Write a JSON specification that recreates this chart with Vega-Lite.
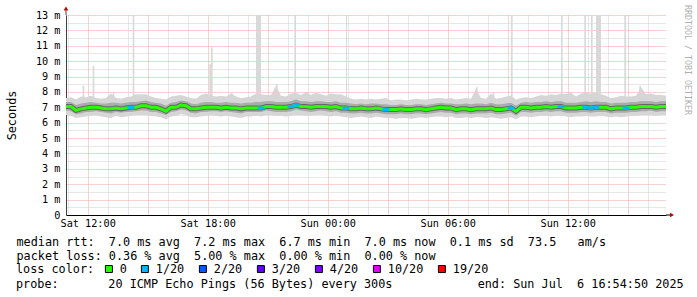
{
  "$schema": "https://vega.github.io/schema/vega-lite/v6.json",
  "width": 600,
  "height": 200,
  "autosize": {"type": "none"},
  "padding": {"left": 66, "top": 15, "right": 31, "bottom": 82},
  "background": "white",
  "config": {"view": {"stroke": null}},
  "datasets": {
    "rtt": [
      {"t":"2025-07-05T10:55:00Z","m":7.05,"l":"0","min":6.5,"q1":6.8,"q3":7.35,"max":7.6},
      {"t":"2025-07-05T11:10:00Z","m":7.05,"l":"0","min":6.45,"q1":6.75,"q3":7.35,"max":7.65},
      {"t":"2025-07-05T11:25:00Z","m":6.8,"l":"0","min":6.3,"q1":6.55,"q3":7.15,"max":7.5},
      {"t":"2025-07-05T11:40:00Z","m":6.9,"l":"0","min":6.35,"q1":6.6,"q3":7.25,"max":7.7},
      {"t":"2025-07-05T11:55:00Z","m":6.95,"l":"0","min":6.4,"q1":6.7,"q3":7.3,"max":7.65},
      {"t":"2025-07-05T12:10:00Z","m":7.0,"l":"0","min":6.45,"q1":6.7,"q3":7.35,"max":7.75},
      {"t":"2025-07-05T12:25:00Z","m":7.0,"l":"0","min":6.5,"q1":6.75,"q3":7.3,"max":7.6},
      {"t":"2025-07-05T12:40:00Z","m":6.95,"l":"0","min":6.4,"q1":6.7,"q3":7.25,"max":7.55},
      {"t":"2025-07-05T12:55:00Z","m":6.9,"l":"0","min":6.35,"q1":6.65,"q3":7.25,"max":7.6},
      {"t":"2025-07-05T13:10:00Z","m":6.9,"l":"0","min":6.3,"q1":6.6,"q3":7.3,"max":7.9},
      {"t":"2025-07-05T13:25:00Z","m":6.95,"l":"0","min":6.45,"q1":6.7,"q3":7.3,"max":7.6},
      {"t":"2025-07-05T13:40:00Z","m":6.9,"l":"0","min":6.35,"q1":6.65,"q3":7.25,"max":7.55},
      {"t":"2025-07-05T13:55:00Z","m":6.95,"l":"0","min":6.4,"q1":6.7,"q3":7.3,"max":7.65},
      {"t":"2025-07-05T14:10:00Z","m":7.0,"l":"1/20","min":6.45,"q1":6.7,"q3":7.35,"max":7.7},
      {"t":"2025-07-05T14:25:00Z","m":7.0,"l":"0","min":6.5,"q1":6.75,"q3":7.35,"max":7.85},
      {"t":"2025-07-05T14:40:00Z","m":7.1,"l":"0","min":6.5,"q1":6.8,"q3":7.4,"max":7.85},
      {"t":"2025-07-05T14:55:00Z","m":7.1,"l":"0","min":6.5,"q1":6.8,"q3":7.45,"max":7.85},
      {"t":"2025-07-05T15:10:00Z","m":7.0,"l":"0","min":6.45,"q1":6.7,"q3":7.35,"max":7.7},
      {"t":"2025-07-05T15:25:00Z","m":7.0,"l":"0","min":6.4,"q1":6.7,"q3":7.3,"max":7.6},
      {"t":"2025-07-05T15:40:00Z","m":6.9,"l":"0","min":6.35,"q1":6.6,"q3":7.25,"max":7.55},
      {"t":"2025-07-05T15:55:00Z","m":6.75,"l":"0","min":6.2,"q1":6.5,"q3":7.1,"max":7.5},
      {"t":"2025-07-05T16:10:00Z","m":7.0,"l":"0","min":6.4,"q1":6.7,"q3":7.3,"max":7.7},
      {"t":"2025-07-05T16:25:00Z","m":7.0,"l":"0","min":6.45,"q1":6.75,"q3":7.35,"max":7.75},
      {"t":"2025-07-05T16:40:00Z","m":7.15,"l":"0","min":6.55,"q1":6.85,"q3":7.45,"max":7.8},
      {"t":"2025-07-05T16:55:00Z","m":7.1,"l":"0","min":6.5,"q1":6.8,"q3":7.4,"max":7.7},
      {"t":"2025-07-05T17:10:00Z","m":6.9,"l":"0","min":6.35,"q1":6.65,"q3":7.25,"max":7.6},
      {"t":"2025-07-05T17:25:00Z","m":6.9,"l":"0","min":6.35,"q1":6.6,"q3":7.2,"max":7.55},
      {"t":"2025-07-05T17:40:00Z","m":6.95,"l":"0","min":6.4,"q1":6.7,"q3":7.3,"max":7.8},
      {"t":"2025-07-05T17:55:00Z","m":7.0,"l":"0","min":6.45,"q1":6.7,"q3":7.35,"max":7.9},
      {"t":"2025-07-05T18:10:00Z","m":7.0,"l":"0","min":6.5,"q1":6.75,"q3":7.35,"max":7.75},
      {"t":"2025-07-05T18:25:00Z","m":7.0,"l":"0","min":6.45,"q1":6.75,"q3":7.3,"max":7.7},
      {"t":"2025-07-05T18:40:00Z","m":6.95,"l":"0","min":6.4,"q1":6.7,"q3":7.3,"max":7.75},
      {"t":"2025-07-05T18:55:00Z","m":7.0,"l":"0","min":6.45,"q1":6.75,"q3":7.35,"max":7.7},
      {"t":"2025-07-05T19:10:00Z","m":6.95,"l":"0","min":6.4,"q1":6.7,"q3":7.3,"max":7.9},
      {"t":"2025-07-05T19:25:00Z","m":6.95,"l":"0","min":6.35,"q1":6.65,"q3":7.3,"max":7.7},
      {"t":"2025-07-05T19:40:00Z","m":6.9,"l":"0","min":6.3,"q1":6.6,"q3":7.25,"max":7.6},
      {"t":"2025-07-05T19:55:00Z","m":6.95,"l":"0","min":6.4,"q1":6.7,"q3":7.3,"max":7.65},
      {"t":"2025-07-05T20:10:00Z","m":6.95,"l":"0","min":6.4,"q1":6.7,"q3":7.3,"max":7.7},
      {"t":"2025-07-05T20:25:00Z","m":6.95,"l":"0","min":6.45,"q1":6.7,"q3":7.35,"max":7.9},
      {"t":"2025-07-05T20:40:00Z","m":6.95,"l":"1/20","min":6.4,"q1":6.7,"q3":7.35,"max":7.85},
      {"t":"2025-07-05T20:55:00Z","m":7.05,"l":"0","min":6.5,"q1":6.8,"q3":7.4,"max":7.8},
      {"t":"2025-07-05T21:10:00Z","m":7.05,"l":"0","min":6.5,"q1":6.75,"q3":7.4,"max":7.8},
      {"t":"2025-07-05T21:25:00Z","m":7.0,"l":"0","min":6.45,"q1":6.7,"q3":7.35,"max":8.4},
      {"t":"2025-07-05T21:40:00Z","m":7.0,"l":"0","min":6.45,"q1":6.7,"q3":7.35,"max":7.75},
      {"t":"2025-07-05T21:55:00Z","m":7.0,"l":"0","min":6.4,"q1":6.7,"q3":7.35,"max":7.7},
      {"t":"2025-07-05T22:10:00Z","m":7.05,"l":"1/20","min":6.45,"q1":6.75,"q3":7.4,"max":7.9},
      {"t":"2025-07-05T22:25:00Z","m":7.15,"l":"1/20","min":6.5,"q1":6.85,"q3":7.5,"max":7.95},
      {"t":"2025-07-05T22:40:00Z","m":7.05,"l":"0","min":6.5,"q1":6.8,"q3":7.4,"max":7.8},
      {"t":"2025-07-05T22:55:00Z","m":7.05,"l":"0","min":6.45,"q1":6.75,"q3":7.4,"max":8.0},
      {"t":"2025-07-05T23:10:00Z","m":7.0,"l":"0","min":6.45,"q1":6.7,"q3":7.35,"max":7.8},
      {"t":"2025-07-05T23:25:00Z","m":7.05,"l":"0","min":6.5,"q1":6.75,"q3":7.4,"max":7.95},
      {"t":"2025-07-05T23:40:00Z","m":7.05,"l":"0","min":6.5,"q1":6.8,"q3":7.4,"max":7.85},
      {"t":"2025-07-05T23:55:00Z","m":7.05,"l":"0","min":6.45,"q1":6.75,"q3":7.35,"max":7.75},
      {"t":"2025-07-06T00:10:00Z","m":7.0,"l":"0","min":6.4,"q1":6.7,"q3":7.35,"max":7.9},
      {"t":"2025-07-06T00:25:00Z","m":7.05,"l":"0","min":6.45,"q1":6.75,"q3":7.4,"max":7.85},
      {"t":"2025-07-06T00:40:00Z","m":6.95,"l":"0","min":6.4,"q1":6.65,"q3":7.3,"max":7.85},
      {"t":"2025-07-06T00:55:00Z","m":6.95,"l":"1/20","min":6.35,"q1":6.65,"q3":7.3,"max":7.7},
      {"t":"2025-07-06T01:10:00Z","m":6.9,"l":"0","min":6.3,"q1":6.6,"q3":7.25,"max":7.55},
      {"t":"2025-07-06T01:25:00Z","m":6.9,"l":"0","min":6.35,"q1":6.6,"q3":7.2,"max":7.5},
      {"t":"2025-07-06T01:40:00Z","m":6.95,"l":"0","min":6.4,"q1":6.65,"q3":7.25,"max":7.55},
      {"t":"2025-07-06T01:55:00Z","m":6.9,"l":"0","min":6.35,"q1":6.6,"q3":7.2,"max":7.5},
      {"t":"2025-07-06T02:10:00Z","m":6.9,"l":"0","min":6.3,"q1":6.6,"q3":7.25,"max":7.55},
      {"t":"2025-07-06T02:25:00Z","m":6.95,"l":"0","min":6.4,"q1":6.65,"q3":7.25,"max":7.5},
      {"t":"2025-07-06T02:40:00Z","m":6.9,"l":"0","min":6.35,"q1":6.6,"q3":7.2,"max":7.55},
      {"t":"2025-07-06T02:55:00Z","m":6.85,"l":"1/20","min":6.3,"q1":6.55,"q3":7.2,"max":7.6},
      {"t":"2025-07-06T03:10:00Z","m":6.85,"l":"0","min":6.3,"q1":6.55,"q3":7.15,"max":7.45},
      {"t":"2025-07-06T03:25:00Z","m":6.85,"l":"0","min":6.25,"q1":6.55,"q3":7.15,"max":7.5},
      {"t":"2025-07-06T03:40:00Z","m":6.9,"l":"0","min":6.3,"q1":6.6,"q3":7.2,"max":7.5},
      {"t":"2025-07-06T03:55:00Z","m":6.85,"l":"0","min":6.3,"q1":6.55,"q3":7.15,"max":7.45},
      {"t":"2025-07-06T04:10:00Z","m":6.85,"l":"0","min":6.25,"q1":6.55,"q3":7.15,"max":7.5},
      {"t":"2025-07-06T04:25:00Z","m":6.9,"l":"0","min":6.3,"q1":6.6,"q3":7.2,"max":7.55},
      {"t":"2025-07-06T04:40:00Z","m":6.9,"l":"0","min":6.35,"q1":6.6,"q3":7.2,"max":7.5},
      {"t":"2025-07-06T04:55:00Z","m":6.85,"l":"0","min":6.3,"q1":6.55,"q3":7.15,"max":7.5},
      {"t":"2025-07-06T05:10:00Z","m":6.9,"l":"0","min":6.35,"q1":6.6,"q3":7.2,"max":7.55},
      {"t":"2025-07-06T05:25:00Z","m":6.95,"l":"0","min":6.4,"q1":6.65,"q3":7.25,"max":7.6},
      {"t":"2025-07-06T05:40:00Z","m":7.0,"l":"0","min":6.4,"q1":6.7,"q3":7.3,"max":7.6},
      {"t":"2025-07-06T05:55:00Z","m":6.95,"l":"0","min":6.35,"q1":6.65,"q3":7.25,"max":7.55},
      {"t":"2025-07-06T06:10:00Z","m":6.95,"l":"0","min":6.4,"q1":6.65,"q3":7.25,"max":7.6},
      {"t":"2025-07-06T06:25:00Z","m":6.85,"l":"0","min":6.3,"q1":6.55,"q3":7.2,"max":7.5},
      {"t":"2025-07-06T06:40:00Z","m":6.9,"l":"0","min":6.3,"q1":6.6,"q3":7.2,"max":7.55},
      {"t":"2025-07-06T06:55:00Z","m":6.9,"l":"0","min":6.35,"q1":6.6,"q3":7.25,"max":7.6},
      {"t":"2025-07-06T07:10:00Z","m":6.85,"l":"0","min":6.3,"q1":6.55,"q3":7.2,"max":7.55},
      {"t":"2025-07-06T07:25:00Z","m":6.9,"l":"0","min":6.35,"q1":6.6,"q3":7.25,"max":8.2},
      {"t":"2025-07-06T07:40:00Z","m":6.9,"l":"0","min":6.35,"q1":6.6,"q3":7.25,"max":7.6},
      {"t":"2025-07-06T07:55:00Z","m":6.9,"l":"0","min":6.3,"q1":6.6,"q3":7.2,"max":7.55},
      {"t":"2025-07-06T08:10:00Z","m":6.95,"l":"0","min":6.35,"q1":6.65,"q3":7.3,"max":7.9},
      {"t":"2025-07-06T08:25:00Z","m":6.85,"l":"0","min":6.3,"q1":6.55,"q3":7.2,"max":7.55},
      {"t":"2025-07-06T08:40:00Z","m":6.85,"l":"0","min":6.25,"q1":6.55,"q3":7.2,"max":7.6},
      {"t":"2025-07-06T08:55:00Z","m":6.9,"l":"0","min":6.3,"q1":6.6,"q3":7.25,"max":7.7},
      {"t":"2025-07-06T09:10:00Z","m":6.95,"l":"1/20","min":6.35,"q1":6.65,"q3":7.3,"max":7.75},
      {"t":"2025-07-06T09:25:00Z","m":6.75,"l":"0","min":6.2,"q1":6.45,"q3":7.1,"max":7.5},
      {"t":"2025-07-06T09:40:00Z","m":7.0,"l":"0","min":6.4,"q1":6.7,"q3":7.3,"max":7.6},
      {"t":"2025-07-06T09:55:00Z","m":7.0,"l":"0","min":6.4,"q1":6.7,"q3":7.35,"max":7.65},
      {"t":"2025-07-06T10:10:00Z","m":6.95,"l":"0","min":6.35,"q1":6.65,"q3":7.3,"max":7.6},
      {"t":"2025-07-06T10:25:00Z","m":7.0,"l":"0","min":6.4,"q1":6.7,"q3":7.35,"max":7.7},
      {"t":"2025-07-06T10:40:00Z","m":7.0,"l":"0","min":6.45,"q1":6.7,"q3":7.35,"max":7.8},
      {"t":"2025-07-06T10:55:00Z","m":7.05,"l":"0","min":6.45,"q1":6.75,"q3":7.4,"max":7.75},
      {"t":"2025-07-06T11:10:00Z","m":7.0,"l":"0","min":6.4,"q1":6.7,"q3":7.35,"max":7.85},
      {"t":"2025-07-06T11:25:00Z","m":7.05,"l":"0","min":6.45,"q1":6.75,"q3":7.4,"max":7.8},
      {"t":"2025-07-06T11:40:00Z","m":7.05,"l":"1/20","min":6.45,"q1":6.75,"q3":7.4,"max":7.9},
      {"t":"2025-07-06T11:55:00Z","m":6.95,"l":"0","min":6.4,"q1":6.65,"q3":7.3,"max":7.85},
      {"t":"2025-07-06T12:10:00Z","m":6.95,"l":"0","min":6.35,"q1":6.65,"q3":7.3,"max":7.95},
      {"t":"2025-07-06T12:25:00Z","m":6.95,"l":"0","min":6.4,"q1":6.65,"q3":7.3,"max":7.7},
      {"t":"2025-07-06T12:40:00Z","m":7.0,"l":"0","min":6.4,"q1":6.7,"q3":7.35,"max":7.9},
      {"t":"2025-07-06T12:55:00Z","m":7.0,"l":"1/20","min":6.45,"q1":6.7,"q3":7.4,"max":7.95},
      {"t":"2025-07-06T13:10:00Z","m":6.95,"l":"1/20","min":6.4,"q1":6.65,"q3":7.35,"max":7.9},
      {"t":"2025-07-06T13:25:00Z","m":7.0,"l":"1/20","min":6.4,"q1":6.7,"q3":7.4,"max":8.0},
      {"t":"2025-07-06T13:40:00Z","m":7.0,"l":"0","min":6.45,"q1":6.7,"q3":7.35,"max":7.85},
      {"t":"2025-07-06T13:55:00Z","m":7.0,"l":"0","min":6.4,"q1":6.7,"q3":7.35,"max":7.75},
      {"t":"2025-07-06T14:10:00Z","m":6.9,"l":"0","min":6.35,"q1":6.6,"q3":7.25,"max":7.6},
      {"t":"2025-07-06T14:25:00Z","m":6.95,"l":"0","min":6.4,"q1":6.65,"q3":7.3,"max":7.65},
      {"t":"2025-07-06T14:40:00Z","m":6.95,"l":"0","min":6.35,"q1":6.65,"q3":7.3,"max":7.75},
      {"t":"2025-07-06T14:55:00Z","m":6.95,"l":"1/20","min":6.4,"q1":6.65,"q3":7.3,"max":7.7},
      {"t":"2025-07-06T15:10:00Z","m":7.0,"l":"0","min":6.45,"q1":6.7,"q3":7.35,"max":7.7},
      {"t":"2025-07-06T15:25:00Z","m":7.0,"l":"0","min":6.45,"q1":6.7,"q3":7.35,"max":7.75},
      {"t":"2025-07-06T15:40:00Z","m":7.05,"l":"0","min":6.5,"q1":6.75,"q3":7.4,"max":8.3},
      {"t":"2025-07-06T15:55:00Z","m":7.05,"l":"0","min":6.5,"q1":6.75,"q3":7.4,"max":7.85},
      {"t":"2025-07-06T16:10:00Z","m":7.05,"l":"0","min":6.5,"q1":6.8,"q3":7.4,"max":7.9},
      {"t":"2025-07-06T16:25:00Z","m":7.0,"l":"0","min":6.45,"q1":6.7,"q3":7.35,"max":7.8},
      {"t":"2025-07-06T16:40:00Z","m":7.05,"l":"0","min":6.5,"q1":6.75,"q3":7.4,"max":7.8},
      {"t":"2025-07-06T16:55:00Z","m":7.05,"l":"0","min":6.5,"q1":6.75,"q3":7.4,"max":7.75}
    ],
    "spikes": [
      {"t":"2025-07-05T11:45:00Z","t2":"2025-07-05T11:50:00Z","top":8.4},
      {"t":"2025-07-05T12:15:00Z","t2":"2025-07-05T12:20:00Z","top":9.7},
      {"t":"2025-07-05T13:15:00Z","t2":"2025-07-05T13:20:00Z","top":8.0},
      {"t":"2025-07-05T14:15:00Z","t2":"2025-07-05T14:20:00Z","top":13},
      {"t":"2025-07-05T18:05:00Z","t2":"2025-07-05T18:10:00Z","top":9.8},
      {"t":"2025-07-05T18:10:00Z","t2":"2025-07-05T18:15:00Z","top":10.9},
      {"t":"2025-07-05T19:10:00Z","t2":"2025-07-05T19:15:00Z","top":8.0},
      {"t":"2025-07-05T20:25:00Z","t2":"2025-07-05T20:40:00Z","top":13},
      {"t":"2025-07-05T21:25:00Z","t2":"2025-07-05T21:30:00Z","top":8.5},
      {"t":"2025-07-05T22:20:00Z","t2":"2025-07-05T22:25:00Z","top":13},
      {"t":"2025-07-06T00:55:00Z","t2":"2025-07-06T00:58:00Z","top":13},
      {"t":"2025-07-06T07:25:00Z","t2":"2025-07-06T07:30:00Z","top":8.3},
      {"t":"2025-07-06T08:15:00Z","t2":"2025-07-06T08:20:00Z","top":8.0},
      {"t":"2025-07-06T09:10:00Z","t2":"2025-07-06T09:15:00Z","top":13},
      {"t":"2025-07-06T11:40:00Z","t2":"2025-07-06T11:45:00Z","top":13},
      {"t":"2025-07-06T12:05:00Z","t2":"2025-07-06T12:10:00Z","top":8.0},
      {"t":"2025-07-06T12:50:00Z","t2":"2025-07-06T12:55:00Z","top":13},
      {"t":"2025-07-06T13:10:00Z","t2":"2025-07-06T13:15:00Z","top":13},
      {"t":"2025-07-06T13:25:00Z","t2":"2025-07-06T13:40:00Z","top":13},
      {"t":"2025-07-06T14:50:00Z","t2":"2025-07-06T14:55:00Z","top":13},
      {"t":"2025-07-06T15:35:00Z","t2":"2025-07-06T15:40:00Z","top":8.4}
    ]
  },
  "title": {
    "text": "probe:\u00a0\u00a0\u00a0\u00a0\u00a0\u00a0 20 ICMP Echo Pings (56 Bytes) every 300s\u00a0\u00a0\u00a0\u00a0\u00a0\u00a0\u00a0\u00a0\u00a0\u00a0\u00a0 end: Sun Jul\u00a0 6 16:54:50 2025",
    "orient": "bottom",
    "anchor": "start",
    "frame": "group",
    "dx": -50,
    "offset": 3,
    "baseline": "top",
    "font": "DejaVu Sans Mono",
    "fontSize": 11.8,
    "fontWeight": "normal",
    "color": "black"
  },
  "layer": [
    {
      "data": {"name": "spikes"},
      "mark": {"type": "rect", "color": "#d9d9d9"},
      "encoding": {
        "x": {
          "field": "t", "type": "temporal",
          "scale": {"type": "utc", "domain": [{"year": 2025, "month": 7, "date": 5, "hours": 10, "minutes": 55, "utc": true}, {"year": 2025, "month": 7, "date": 6, "hours": 16, "minutes": 55, "utc": true}]},
          "axis": {
            "tickCount": 30,
            "grid": true,
            "gridDash": [1, 1],
            "gridColor": {"condition": {"test": "utchours(datum.value) % 3 === 0", "value": "#eba6a6"}, "value": "#cfcfcf"},
            "ticks": false,
            "domainColor": "black",
            "labelExpr": "utchours(datum.value) % 6 === 0 ? utcFormat(datum.value, '%a %H:%M') : ''",
            "labelOverlap": false,
            "labelFlush": false,
            "labelFont": "DejaVu Sans Mono",
            "labelFontSize": 10.2,
            "labelColor": "black",
            "labelPadding": 3,
            "title": ["median rtt:\u00a0 7.0 ms avg\u00a0 7.2 ms max\u00a0 6.7 ms min\u00a0 7.0 ms now\u00a0 0.1 ms sd\u00a0 73.5\u00a0\u00a0 am/s", "packet loss: 0.36 % avg\u00a0 5.00 % max\u00a0 0.00 % min\u00a0 0.00 % now"],
            "titleFont": "DejaVu Sans Mono",
            "titleFontSize": 11.8,
            "titleFontWeight": "normal",
            "titleColor": "black",
            "titleLineHeight": 14.4,
            "titleX": -50,
            "titleY": 30,
            "titleAlign": "left",
            "titleBaseline": "alphabetic"
          }
        },
        "x2": {"field": "t2"},
        "y": {
          "field": "top", "type": "quantitative",
          "scale": {"domain": [0, 13], "nice": false},
          "axis": {
            "values": [0,0.5,1,1.5,2,2.5,3,3.5,4,4.5,5,5.5,6,6.5,7,7.5,8,8.5,9,9.5,10,10.5,11,11.5,12,12.5,13],
            "tickCount": 30,
            "grid": true,
            "gridDash": [1, 1],
            "gridColor": {"condition": {"test": "datum.value % 1 === 0", "value": "#eba6a6"}, "value": "#cfcfcf"},
            "ticks": false,
            "domainColor": "#404040",
            "labelExpr": "datum.value % 1 !== 0 ? '' : (datum.value === 0 ? '0\u00a0\u00a0' : datum.value + ' m')",
            "labelOverlap": false,
            "labelFlush": false,
            "labelFont": "DejaVu Sans Mono",
            "labelFontSize": 10.2,
            "labelColor": "black",
            "labelPadding": 6,
            "title": "Seconds",
            "titleFont": "DejaVu Sans Mono",
            "titleFontSize": 11.8,
            "titleFontWeight": "normal",
            "titleColor": "black",
            "titlePadding": 18
          }
        },
        "y2": {"datum": 7}
      }
    },
    {
      "data": {"name": "rtt"},
      "mark": {"type": "area", "color": "#d6d6d6"},
      "encoding": {
        "x": {"field": "t", "type": "temporal"},
        "y": {"field": "min", "type": "quantitative"},
        "y2": {"field": "max"}
      }
    },
    {
      "data": {"name": "rtt"},
      "mark": {"type": "area", "color": "#ababab"},
      "encoding": {
        "x": {"field": "t", "type": "temporal"},
        "y": {"field": "q1", "type": "quantitative"},
        "y2": {"field": "q3"}
      }
    },
    {
      "data": {"name": "rtt"},
      "mark": {"type": "line", "color": "#666666", "strokeWidth": 5},
      "encoding": {
        "x": {"field": "t", "type": "temporal"},
        "y": {"field": "m", "type": "quantitative"}
      }
    },
    {
      "data": {"name": "rtt"},
      "mark": {"type": "line", "color": "#26ff00", "strokeWidth": 3},
      "encoding": {
        "x": {"field": "t", "type": "temporal"},
        "y": {"field": "m", "type": "quantitative"}
      }
    },
    {
      "data": {"name": "rtt"},
      "transform": [{"filter": "datum.l !== '0'"}],
      "mark": {"type": "tick", "orient": "horizontal", "size": 7, "thickness": 3, "opacity": 1},
      "encoding": {
        "x": {"field": "t", "type": "temporal"},
        "y": {"field": "m", "type": "quantitative"},
        "color": {
          "field": "l", "type": "nominal",
          "scale": {"domain": ["0", "1/20", "2/20", "3/20", "4/20", "10/20", "19/20"], "range": ["#26ff00", "#00b8ff", "#0059ff", "#5e00ff", "#7e00ff", "#dd00ff", "#ff0000"]},
          "legend": {
            "orient": "none",
            "legendX": -50,
            "legendY": 248,
            "direction": "horizontal",
            "title": "loss color:",
            "titleOrient": "left",
            "titleFont": "DejaVu Sans Mono",
            "titleFontSize": 11.8,
            "titleFontWeight": "normal",
            "titleColor": "black",
            "titlePadding": 8,
            "labelFont": "DejaVu Sans Mono",
            "labelFontSize": 11.8,
            "labelColor": "black",
            "labelOffset": 5,
            "columnPadding": 12,
            "symbolType": "square",
            "symbolSize": 49,
            "symbolStrokeColor": "black",
            "symbolStrokeWidth": 1,
            "symbolOpacity": 1,
            "padding": 0
          }
        }
      }
    },
    {
      "data": {"values": [{}]},
      "mark": {"type": "rule", "color": "#404040", "clip": false},
      "encoding": {
        "x": {"datum": {"year": 2025, "month": 7, "date": 5, "hours": 10, "minutes": 55, "utc": true}, "type": "temporal"},
        "y": {"datum": 13, "type": "quantitative"},
        "y2": {"datum": 13.3}
      }
    },
    {
      "data": {"values": [{}]},
      "mark": {"type": "point", "shape": "triangle-up", "filled": true, "color": "#c00000", "size": 22, "opacity": 1, "clip": false},
      "encoding": {
        "x": {"datum": {"year": 2025, "month": 7, "date": 5, "hours": 10, "minutes": 55, "utc": true}, "type": "temporal"},
        "y": {"datum": 13.42, "type": "quantitative"}
      }
    },
    {
      "data": {"values": [{}]},
      "mark": {"type": "rule", "color": "black", "clip": false},
      "encoding": {
        "x": {"datum": {"year": 2025, "month": 7, "date": 6, "hours": 16, "minutes": 55, "utc": true}, "type": "temporal"},
        "x2": {"datum": {"year": 2025, "month": 7, "date": 6, "hours": 17, "minutes": 10, "utc": true}},
        "y": {"datum": 0, "type": "quantitative"}
      }
    },
    {
      "data": {"values": [{}]},
      "mark": {"type": "point", "shape": "triangle-right", "filled": true, "color": "#c00000", "size": 22, "opacity": 1, "clip": false},
      "encoding": {
        "x": {"datum": {"year": 2025, "month": 7, "date": 6, "hours": 17, "minutes": 13, "utc": true}, "type": "temporal"},
        "y": {"datum": 0, "type": "quantitative"}
      }
    },
    {
      "data": {"values": [{"text": "RRDTOOL / TOBI OETIKER"}]},
      "mark": {"type": "text", "angle": 90, "font": "DejaVu Sans Mono", "fontSize": 8.3, "color": "#b0b0b0", "align": "center", "baseline": "middle", "clip": false},
      "encoding": {
        "x": {"datum": {"year": 2025, "month": 7, "date": 6, "hours": 17, "minutes": 58, "utc": true}, "type": "temporal"},
        "y": {"datum": 10.07, "type": "quantitative"},
        "text": {"field": "text"}
      }
    }
  ]
}
